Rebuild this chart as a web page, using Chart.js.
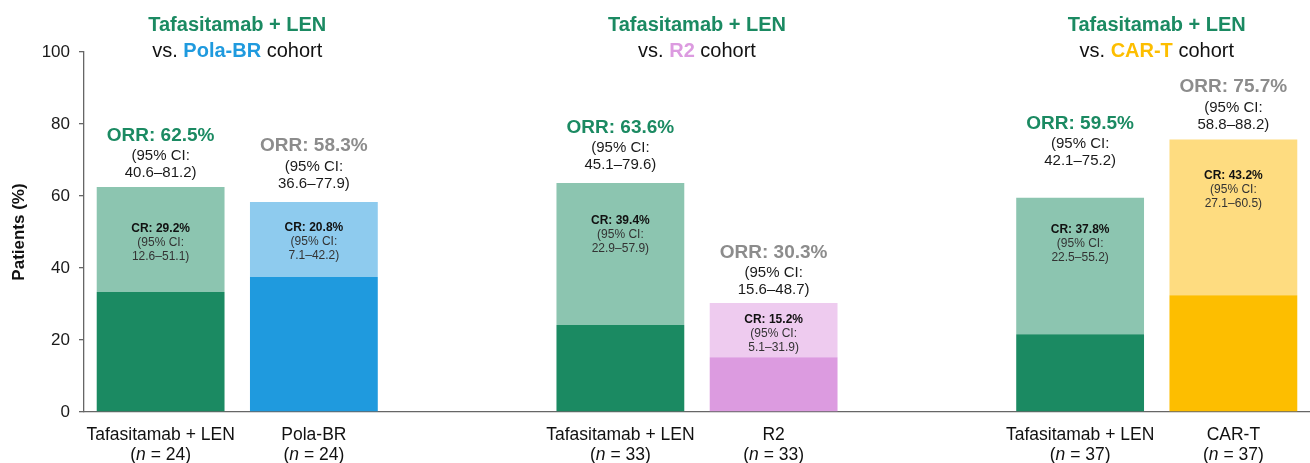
<!DOCTYPE html>
<html>
<head>
<meta charset="utf-8">
<script src="https://cdn.jsdelivr.net/npm/chart.js@4.4.1/dist/chart.umd.min.js"></script>
<style>
html, body { margin: 0; padding: 0; background: #fff; }
</style>
</head>
<body>
<canvas id="orrChart" width="1310" height="463"></canvas>
<script>
// bars, left to right
const barNames = ['Tafasitamab + LEN', 'Pola-BR', 'Tafasitamab + LEN', 'R2', 'Tafasitamab + LEN', 'CAR-T']
const nPatients = [24, 24, 33, 33, 37, 37]
const orrValues = [62.5, 58.3, 63.6, 30.3, 59.5, 75.7]
const orrCI = ['40.6–81.2', '36.6–77.9', '45.1–79.6', '15.6–48.7', '42.1–75.2', '58.8–88.2']
const crValues = [29.2, 20.8, 39.4, 15.2, 37.8, 43.2]
const crCI = ['12.6–51.1', '7.1–42.2', '22.9–57.9', '5.1–31.9', '22.5–55.2', '27.1–60.5']
const darkValues = [33.3, 37.5, 24.2, 15.2, 21.6, 32.4]
const comparators = ['Pola-BR', 'R2', 'CAR-T']
const yTicks = [0, 20, 40, 60, 80, 100]

const darkColors = ['#1b8a62', '#1f9ade', '#1b8a62', '#dc9be0', '#1b8a62', '#fdbe00']
const lightColors = ['#8cc5b0', '#8ecbee', '#8cc5b0', '#eecbef', '#8cc5b0', '#fedc80']
const compColors = ['#1f9ade', '#dc9be0', '#fdbe00']
const green = '#1b8a62'
const grey = '#8c8c8c'

// label placement tweaks (pixels)
const orrGap = [15, 20, 19, 14, 38, 16]
const crOffset = [41, 25, 37, 16, 31, 35]

// 8 slots on the x axis, empty slot between cohorts
const slotOf = [0, 1, 3, 4, 6, 7]
const SLOTS = 8
function toSlots(arr, fill) {
    let out = new Array(SLOTS).fill(fill)
    slotOf.forEach((s, i) => { out[s] = arr[i] })
    return out
}

const FONT = '"Liberation Sans", Arial, Helvetica, sans-serif'
function font(size, bold, italic) {
    return (italic ? 'italic ' : '') + (bold ? 'bold ' : '') + size + 'px ' + FONT
}

function drawRich(ctx, parts, cx, cy) {
    let total = 0
    parts.forEach(p => {
        ctx.font = font(p.size, p.bold, p.italic)
        p.w = ctx.measureText(p.text).width
        total += p.w
    })
    let x = cx - total / 2
    ctx.textAlign = 'left'
    ctx.textBaseline = 'alphabetic'
    parts.forEach(p => {
        ctx.font = font(p.size, p.bold, p.italic)
        ctx.fillStyle = p.color
        ctx.fillText(p.text, x, cy + p.size * 0.36)
        x += p.w
    })
}
function line(ctx, text, cx, cy, size, bold, color) {
    drawRich(ctx, [{ text: text, size: size, bold: bold, color: color }], cx, cy)
}

const labelsPlugin = {
    id: 'orrLabels',
    afterDraw(chart) {
        const ctx = chart.ctx
        const x = chart.scales.x
        const y = chart.scales.y
        ctx.save()

        // cohort headers
        comparators.forEach((c, g) => {
            let cx = (x.getPixelForValue(slotOf[g * 2]) + x.getPixelForValue(slotOf[g * 2 + 1])) / 2
            line(ctx, 'Tafasitamab + LEN', cx, 24, 20, true, green)
            drawRich(ctx, [
                { text: 'vs. ', size: 20, color: '#111' },
                { text: c, size: 20, bold: true, color: compColors[g] },
                { text: ' cohort', size: 20, color: '#111' }
            ], cx, 50)
        })

        barNames.forEach((name, i) => {
            let cx = x.getPixelForValue(slotOf[i])
            let top = y.getPixelForValue(orrValues[i])
            let orrColor = i % 2 === 0 ? green : grey

            // ORR above the bar
            let ci2 = top - orrGap[i]
            line(ctx, 'ORR: ' + orrValues[i].toFixed(1) + '%', cx, ci2 - 38, 19, true, orrColor)
            line(ctx, '(95% CI:', cx, ci2 - 17, 15, false, '#1a1a1a')
            line(ctx, orrCI[i] + ')', cx, ci2, 15, false, '#1a1a1a')

            // CR inside the bar
            let cr = top + crOffset[i]
            line(ctx, 'CR: ' + crValues[i].toFixed(1) + '%', cx, cr, 12, true, '#111')
            line(ctx, '(95% CI:', cx, cr + 14, 12, false, '#333')
            line(ctx, crCI[i] + ')', cx, cr + 28, 12, false, '#333')

            // category labels under the axis
            let base = chart.chartArea.bottom
            line(ctx, name, cx, base + 22, 17.5, false, '#111')
            drawRich(ctx, [
                { text: '(', size: 17.5, color: '#111' },
                { text: 'n', size: 17.5, italic: true, color: '#111' },
                { text: ' = ' + nPatients[i] + ')', size: 17.5, color: '#111' }
            ], cx, base + 42)
        })
        ctx.restore()
    }
}

const ctx = document.getElementById('orrChart')
new Chart(ctx, {
    type: 'bar',
    data: {
        labels: toSlots(barNames, ''),
        datasets: [
            {
                label: 'dark',
                data: toSlots(darkValues, null),
                backgroundColor: toSlots(darkColors, 'rgba(0,0,0,0)'),
                borderWidth: 0,
                categoryPercentage: 1,
                barPercentage: 0.834
            },
            {
                label: 'light',
                data: toSlots(orrValues.map((v, i) => +(v - darkValues[i]).toFixed(1)), null),
                backgroundColor: toSlots(lightColors, 'rgba(0,0,0,0)'),
                borderWidth: 0,
                categoryPercentage: 1,
                barPercentage: 0.834
            }
        ]
    },
    options: {
        responsive: false,
        devicePixelRatio: 1,
        animation: false,
        layout: { padding: { top: 52, right: 0, bottom: 0, left: 0 } },
        plugins: {
            legend: { display: false },
            tooltip: { enabled: false }
        },
        scales: {
            x: {
                stacked: true,
                ticks: { display: false },
                grid: { display: false, drawTicks: false },
                border: { display: true, color: '#666', width: 1.3 },
                afterFit: function (scale) { scale.height = 51 }
            },
            y: {
                stacked: true,
                min: 0,
                max: 100,
                afterBuildTicks: function (scale) { scale.ticks = yTicks.map(v => ({ value: v })) },
                ticks: {
                    padding: 9,
                    color: '#1a1a1a',
                    font: { size: 17, family: FONT }
                },
                grid: { drawOnChartArea: false, tickLength: 5, color: '#666', lineWidth: 1.3 },
                border: { display: true, color: '#666', width: 1.3 },
                title: {
                    display: true,
                    text: 'Patients (%)',
                    color: '#111',
                    font: { size: 17, weight: 'bold', family: FONT },
                    padding: { top: 9, bottom: 0 }
                },
                afterFit: function (scale) { scale.width = 84 }
            }
        }
    },
    plugins: [labelsPlugin]
})
</script>
</body>
</html>
